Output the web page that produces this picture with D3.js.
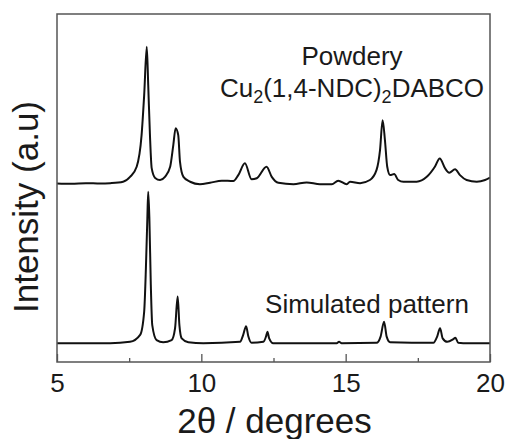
<!DOCTYPE html>
<html>
<head>
<meta charset="utf-8">
<script src="https://cdn.jsdelivr.net/npm/d3@7"></script>
<style>
  html, body { margin: 0; padding: 0; background: #fff; }
  svg { display: block; }
  text { font-family: "Liberation Sans", Arial, Helvetica, sans-serif; fill: #1a1a1a; }
</style>
</head>
<body>
<svg id="chart" width="507" height="439"></svg>
<script>
// ---- data (2θ in degrees, intensity in a.u.) ----
const xMajorTicks = [5, 10, 15, 20];
const xMinorTicks = [7.5, 12.5, 17.5];

const powderyTheta = [5.00,5.50,6.00,6.50,6.84,7.29,7.53,7.76,7.93,8.02,8.11,8.16,8.22,8.28,8.40,8.57,8.74,8.92,9.03,9.11,9.20,9.26,9.38,9.61,9.95,10.30,10.71,11.11,11.28,11.51,11.74,11.92,12.26,12.44,12.67,13.19,13.65,14.11,14.52,14.74,15.04,15.15,15.50,15.84,16.07,16.19,16.28,16.36,16.44,16.54,16.68,16.82,17.00,17.46,17.81,18.09,18.26,18.44,18.59,18.79,18.96,19.19,19.54,19.83,20.00];
const powderyIntensity = [51.3,51.2,51.4,51.3,51.4,51.8,53.2,56.1,65.2,76.7,90.6,79.6,65.2,55.7,52.9,52.3,53.2,56.1,62.4,67.2,65.2,57.6,53.2,51.8,51.1,51.5,52.1,52.0,53.7,57.1,52.5,52.8,56.1,53.2,51.5,51.1,51.6,51.1,51.1,52.1,51.1,51.8,51.4,52.3,55.2,60.9,69.5,63.8,56.1,53.7,54.0,52.3,51.8,51.8,53.2,56.1,58.5,55.7,54.4,55.4,53.7,52.3,51.8,52.3,53.0];

const simTheta = [5.00,6.84,7.53,7.88,8.02,8.08,8.13,8.16,8.20,8.25,8.30,8.45,8.68,8.97,9.09,9.18,9.24,9.32,9.55,10.07,11.34,11.45,11.55,11.63,11.74,12.15,12.24,12.29,12.35,12.49,14.69,14.77,14.86,16.07,16.21,16.33,16.42,16.54,18.04,18.17,18.27,18.36,18.52,18.73,18.80,18.90,19.07,20.00];
const simIntensity = [5.4,5.4,5.8,7.8,14.5,27.0,41.4,48.9,41.4,22.1,10.6,6.3,5.7,6.3,9.7,18.8,10.6,6.8,5.7,5.4,5.8,7.8,10.3,7.3,5.5,5.8,7.3,8.7,6.8,5.4,5.4,5.8,5.4,5.5,7.3,11.6,7.3,5.7,5.5,7.3,9.7,6.8,5.8,6.6,7.0,5.5,5.4,5.4];

const labels = {
  x: "2θ / degrees",
  y: "Intensity (a.u)",
  sim: "Simulated pattern"
};

// ---- layout ----
const W = 507, H = 439;
const plot = { left: 57, right: 490, top: 14, bottom: 362 };

const svg = d3.select("#chart");

const x = d3.scaleLinear().domain([5, 20]).range([plot.left, plot.right]);
const y = d3.scaleLinear().domain([0, 100]).range([plot.bottom, plot.top]);

const line = d3.line()
  .x(d => x(d[0]))
  .y(d => y(d[1]))
  .curve(d3.curveMonotoneX);

const powdery = d3.zip(powderyTheta, powderyIntensity);
const sim = d3.zip(simTheta, simIntensity);

svg.append("defs").append("clipPath").attr("id", "clip")
  .append("rect")
  .attr("x", plot.left).attr("y", plot.top)
  .attr("width", plot.right - plot.left).attr("height", plot.bottom - plot.top);

const g = svg.append("g").attr("clip-path", "url(#clip)");

[powdery, sim].forEach(s => {
  g.append("path")
    .datum(s)
    .attr("d", line)
    .attr("fill", "none")
    .attr("stroke", "#111")
    .attr("stroke-width", 2)
    .attr("stroke-linejoin", "round");
});

// x axis: major ticks (inward) with labels
const xAxis = d3.axisBottom(x)
  .tickValues(xMajorTicks)
  .tickSize(-8)
  .tickPadding(12)
  .tickFormat(d3.format("d"));

const ax = svg.append("g")
  .attr("transform", `translate(0,${plot.bottom})`)
  .call(xAxis);
ax.select(".domain").remove();
ax.selectAll(".tick line").attr("stroke", "#555").attr("stroke-width", 1.3);
ax.selectAll(".tick text")
  .attr("font-size", 26)
  .attr("fill", "#1a1a1a")
  .style("font-family", "'Liberation Sans', Arial, sans-serif");

// minor ticks
const minor = d3.axisBottom(x).tickValues(xMinorTicks).tickSize(-4).tickFormat("");
const mx = svg.append("g")
  .attr("transform", `translate(0,${plot.bottom})`)
  .call(minor);
mx.select(".domain").remove();
mx.selectAll(".tick line").attr("stroke", "#555").attr("stroke-width", 1.3);

// frame
svg.append("rect")
  .attr("x", plot.left).attr("y", plot.top)
  .attr("width", plot.right - plot.left).attr("height", plot.bottom - plot.top)
  .attr("fill", "none")
  .attr("stroke", "#555")
  .attr("stroke-width", 1.5);

// axis titles
svg.append("text")
  .attr("x", (plot.left + plot.right) / 2 + 1)
  .attr("y", 433)
  .attr("text-anchor", "middle")
  .attr("font-size", 35)
  .text(labels.x);

svg.append("text")
  .attr("transform", `translate(38,${207}) rotate(-90)`)
  .attr("text-anchor", "middle")
  .attr("font-size", 35)
  .text(labels.y);

// annotations
const ann = svg.append("text")
  .attr("text-anchor", "middle")
  .attr("font-size", 26);
ann.append("tspan").attr("x", 352).attr("y", 65).text("Powdery");
const t2 = ann.append("tspan").attr("x", 352).attr("y", 97);
t2.append("tspan").text("Cu");
t2.append("tspan").attr("font-size", 18).attr("dy", 6).text("2");
t2.append("tspan").attr("dy", -6).text("(1,4-NDC)");
t2.append("tspan").attr("font-size", 18).attr("dy", 6).text("2");
t2.append("tspan").attr("dy", -6).text("DABCO");

svg.append("text")
  .attr("x", 367)
  .attr("y", 313)
  .attr("text-anchor", "middle")
  .attr("font-size", 26)
  .text(labels.sim);
</script>
</body>
</html>
